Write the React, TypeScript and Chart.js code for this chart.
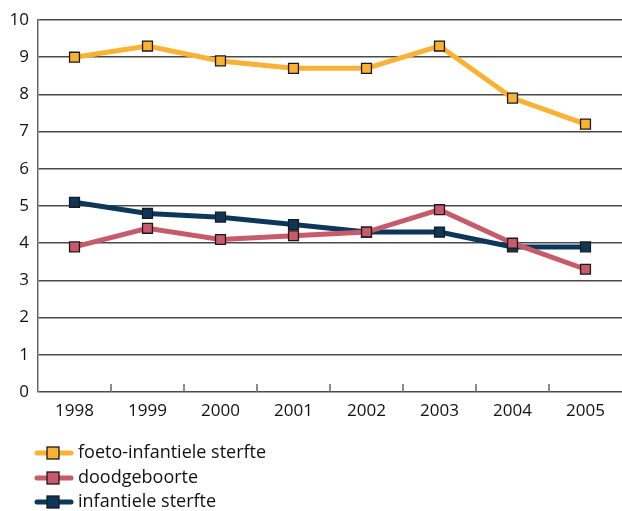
import React, { useEffect, useRef } from "react";
import { Chart, registerables } from "chart.js";

Chart.register(...registerables);

const years = ["1998", "1999", "2000", "2001", "2002", "2003", "2004", "2005"];
const foetoInfantiel = [9.0, 9.3, 8.9, 8.7, 8.7, 9.3, 7.9, 7.2];
const doodgeboorte = [3.9, 4.4, 4.1, 4.2, 4.3, 4.9, 4.0, 3.3];
const infantiel = [5.1, 4.8, 4.7, 4.5, 4.3, 4.3, 3.9, 3.9];
const seriesNames = ["foeto-infantiele sterfte", "doodgeboorte", "infantiele sterfte"];
const seriesColors = ["#F9B233", "#C65B6C", "#0D375A"];

const FONT = "'Open Sans', 'Noto Sans', sans-serif";

const innerTicks = {
  id: "innerTicks",
  afterDatasetsDraw(chart: any) {
    const { ctx, chartArea, scales } = chart;
    const x = scales.x;
    const n = years.length;
    ctx.save();
    ctx.strokeStyle = "#666";
    ctx.lineWidth = 1.5;
    for (let i = 1; i < n; i++) {
      const px = (x.getPixelForValue(i - 1) + x.getPixelForValue(i)) / 2;
      ctx.beginPath();
      ctx.moveTo(px, chartArea.bottom);
      ctx.lineTo(px, chartArea.bottom - 8);
      ctx.stroke();
    }
    ctx.restore();
  },
};

const customLegend = {
  id: "customLegend",
  afterDraw(chart: any) {
    const { ctx } = chart;
    ctx.save();
    const rows = [453, 478, 502];
    seriesNames.forEach((name, i) => {
      const y = rows[i];
      ctx.strokeStyle = seriesColors[i];
      ctx.lineWidth = 5;
      ctx.lineCap = "round";
      ctx.beginPath();
      ctx.moveTo(37, y);
      ctx.lineTo(71, y);
      ctx.stroke();
      ctx.fillStyle = seriesColors[i];
      ctx.fillRect(47, y - 6, 12, 12);
      ctx.strokeStyle = "#1a1a1a";
      ctx.lineWidth = 1.3;
      ctx.strokeRect(47, y - 6, 12, 12);
      ctx.fillStyle = "#111";
      ctx.font = `18px ${FONT}`;
      ctx.textBaseline = "middle";
      ctx.textAlign = "left";
      ctx.fillText(name, 78, y);
    });
    ctx.restore();
  },
};

export default function App() {
  const ref = useRef<HTMLCanvasElement>(null);
  useEffect(() => {
    document.body.style.margin = "0";
    const data = [foetoInfantiel, doodgeboorte, infantiel];
    const chart = new Chart(ref.current!, {
      type: "line",
      data: {
        labels: years,
        datasets: data.map((d, i) => ({
          label: seriesNames[i],
          data: d,
          borderColor: seriesColors[i],
          backgroundColor: seriesColors[i],
          borderWidth: 5,
          pointStyle: "rect",
          pointRadius: 7,
          pointBorderColor: "#1a1a1a",
          pointBorderWidth: 1.3,
          pointBackgroundColor: seriesColors[i],
          tension: 0,
        })),
      },
      options: {
        animation: false,
        responsive: false,
        layout: { autoPadding: false, padding: { top: 20, bottom: 79, left: 0, right: 0 } },
        plugins: { legend: { display: false }, tooltip: { enabled: false } },
        scales: {
          x: {
            offset: true,
            grid: { display: false, drawTicks: false },
            border: { display: false },
            ticks: { color: "#111", font: { family: FONT, size: 17 }, padding: 9, maxRotation: 0 },
            afterFit(s: any) { s.height = 40; s.paddingLeft = 0; s.paddingRight = 0; },
          },
          y: {
            min: 0,
            max: 10,
            ticks: { stepSize: 1, color: "#111", font: { family: FONT, size: 17 }, padding: 9 },
            grid: { color: "#4a4a4a", lineWidth: 1.5, drawTicks: false },
            border: { display: true, color: "#666", width: 1.5 },
            afterFit(s: any) { s.width = 38; },
          },
        },
      },
      plugins: [innerTicks, customLegend],
    });
    return () => chart.destroy();
  }, []);
  return (
    <div style={{ width: 622, height: 511 }}>
      <canvas ref={ref} width={622} height={511} style={{ display: "block" }} />
    </div>
  );
}
